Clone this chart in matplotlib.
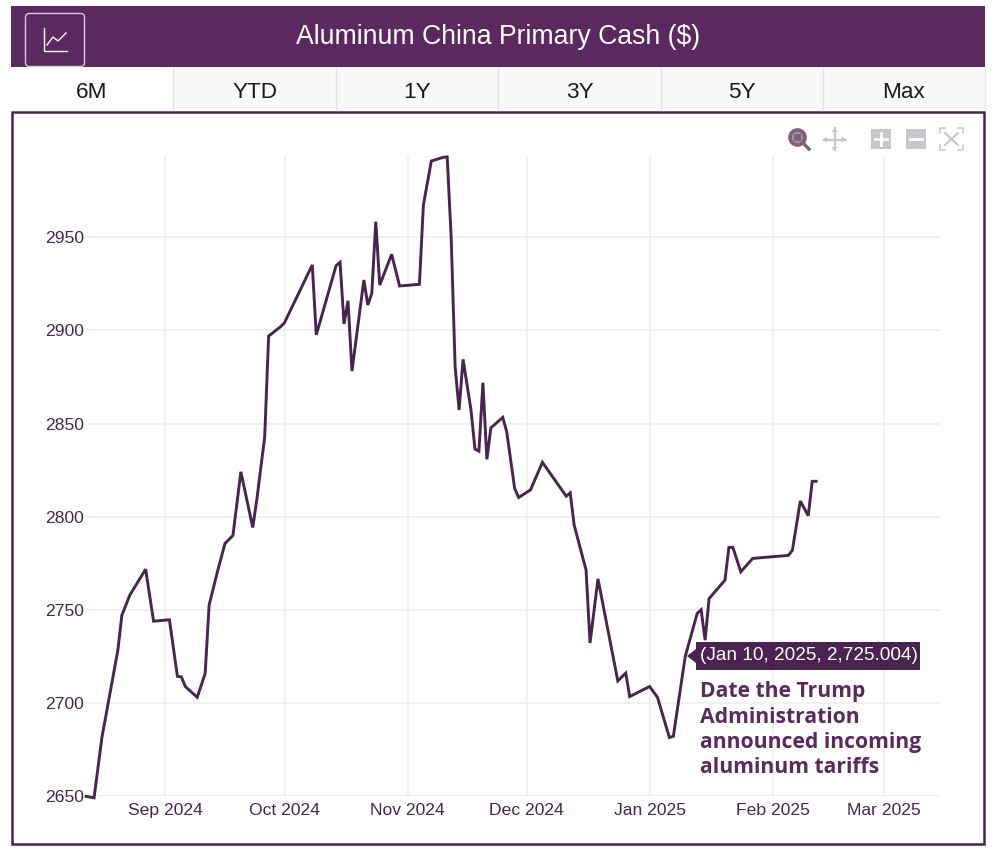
import matplotlib
matplotlib.use("Agg")
import matplotlib.pyplot as plt
import matplotlib.dates as mdates
from matplotlib.patches import Rectangle, FancyBboxPatch, Polygon, Circle
import numpy as np

dates = ["2024-08-12","2024-08-14","2024-08-16","2024-08-20","2024-08-21","2024-08-23","2024-08-27","2024-08-29",
"2024-09-02","2024-09-04","2024-09-05","2024-09-06","2024-09-09","2024-09-11","2024-09-12","2024-09-14","2024-09-16",
"2024-09-18","2024-09-20","2024-09-23","2024-09-24","2024-09-26","2024-09-27","2024-09-30","2024-10-01","2024-10-08",
"2024-10-09","2024-10-14","2024-10-15","2024-10-16","2024-10-17","2024-10-18","2024-10-21","2024-10-22","2024-10-23",
"2024-10-24","2024-10-25","2024-10-28","2024-10-30","2024-11-04","2024-11-05","2024-11-07","2024-11-10","2024-11-11",
"2024-11-12","2024-11-13","2024-11-14","2024-11-15","2024-11-17","2024-11-18","2024-11-19","2024-11-20","2024-11-21",
"2024-11-22","2024-11-25","2024-11-26","2024-11-28","2024-11-29","2024-12-02","2024-12-05","2024-12-11","2024-12-12",
"2024-12-13","2024-12-16","2024-12-17","2024-12-19","2024-12-24","2024-12-26","2024-12-27","2025-01-01","2025-01-03",
"2025-01-06","2025-01-07","2025-01-10","2025-01-13","2025-01-14","2025-01-15","2025-01-16","2025-01-20","2025-01-21",
"2025-01-22","2025-01-24","2025-01-27","2025-02-05","2025-02-06","2025-02-08","2025-02-10","2025-02-11","2025-02-12"]
prices = [2649.8,2649,2681.7,2728.3,2747,2757.8,2771.8,2743.9,
2744.6,2714.3,2714,2708.8,2703,2715.8,2752.5,2769.7,2785.6,
2789.9,2824.1,2794.2,2808.9,2842.7,2897,2902,2904.2,2935.2,
2897.6,2934.8,2936.6,2903.5,2916,2878.2,2927.1,2913.7,2920,
2958.4,2924.4,2940.9,2923.9,2924.8,2967.4,2991,2993,2993.2,
2950.2,2880.5,2857.3,2884.5,2857.3,2836.3,2835.2,2871.9,2830.8,
2847.7,2853.3,2845.6,2815.2,2810.3,2814.4,2829.2,2811,2812.8,
2795.5,2771.3,2732.2,2766.6,2711.8,2716,2703.4,2708.8,2703,
2681.4,2682.1,2725.004,2748,2750,2733.7,2756,2765.9,2783.5,
2783.5,2770.4,2777.6,2779.2,2782,2808.4,2800.5,2819,2819]
y_ticks = [2650,2700,2750,2800,2850,2900,2950]
tabs = ["6M","YTD","1Y","3Y","5Y","Max"]
title = "Aluminum China Primary Cash ($)"
tooltip = "(Jan 10, 2025, 2,725.004)"
note = ["Date the Trump","Administration","announced incoming","aluminum tariffs"]

PURPLE = "#5b2860"
DARK = "#4a2350"
W, H = 1000, 861
fig = plt.figure(figsize=(W/100, H/100), dpi=100, facecolor="white")
plt.rcParams["font.family"] = ["Liberation Sans", "DejaVu Sans"]

# chrome overlay in pixel coordinates
bg = fig.add_axes([0, 0, 1, 1], zorder=0)
bg.set_xlim(0, W); bg.set_ylim(H, 0); bg.axis("off")
bg.add_patch(Rectangle((11, 6), 974, 61, fc=PURPLE, ec="none"))
edges = [11, 173, 336, 498, 661, 823, 985]
for i, lab in enumerate(tabs):
    x0, x1 = edges[i], edges[i+1]
    top = 68 if i == 0 else 67
    bg.add_patch(Rectangle((x0, top), x1-x0, 43-(top-67), fc="white" if i == 0 else "#f9f9f9", ec="none"))
    if i > 0:
        bg.plot([x0, x0], [68, 110], color="#e2e2e2", lw=1)
    bg.text((x0+x1)/2, 93, lab, color="#1a1a1a", fontsize=16.2, ha="center", va="center")
bg.plot([985, 985], [67, 110], color="#e8e8e8", lw=1)
bg.add_patch(FancyBboxPatch((25.5, 13.5), 59, 53, boxstyle="round,pad=0,rounding_size=4", fc=PURPLE, ec="#d8cbd9", lw=1))
bg.plot([44, 44, 67], [28, 50.5, 50.5], color="white", lw=1)
bg.plot([47, 53, 58, 66], [45, 37, 41, 33], color="white", lw=1)
bg.text(498, 37, title, color="white", fontsize=19.2, ha="center", va="center")
bg.add_patch(Rectangle((12, 111.5), 971.5, 732, fc="white", ec=DARK, lw=1.8))

# toolbar icons
bg.add_patch(Circle((797.5, 137.5), 7.5, fc="#a595a4", ec="#7a6078", lw=2.6))
bg.add_patch(Rectangle((794, 134), 7, 7, fc="#7a6078", ec="none"))
bg.plot([803, 809], [143, 149], color="#7a6078", lw=2.4)
gray = "#c9c6cb"
bg.plot([823.5, 845.5], [139.5, 139.5], color=gray, lw=1.6)
bg.plot([834.5, 834.5], [128, 150], color=gray, lw=1.6)
for px, py in [([823,827,827],[139.5,136.5,142.5]),([846,842,842],[139.5,136.5,142.5]),
               ([834.5,831.5,837.5],[128,132,132]),([834.5,831.5,837.5],[151,147,147])]:
    bg.add_patch(Polygon(np.column_stack([px, py]), fc=gray, ec="none"))
bg.add_patch(Rectangle((871, 129), 20, 20, fc=gray, ec="none"))
bg.plot([875, 887], [139, 139], color="white", lw=2)
bg.plot([881, 881], [133, 145], color="white", lw=2)
bg.add_patch(Rectangle((906, 129), 20, 20, fc=gray, ec="none"))
bg.plot([910, 922], [139, 139], color="white", lw=2)
for sx, sy in [(940, 128), (963, 128), (940, 150), (963, 150)]:
    dx = 5 if sx < 950 else -5
    dy = 5 if sy < 140 else -5
    bg.plot([sx+dx, sx, sx], [sy, sy, sy+dy], color=gray, lw=1.1)
bg.plot([945, 958], [133, 145], color=gray, lw=1.4)
bg.plot([945, 958], [145, 133], color=gray, lw=1.4)

# plot
x = mdates.date2num(np.array(dates, dtype="datetime64[D]"))
sep1 = mdates.date2num(np.datetime64("2024-09-01"))
L, R, T, B = 86, 940, 156, 796
ax = fig.add_axes([L/W, 1-B/H, (R-L)/W, (B-T)/H], zorder=1)
ax.patch.set_alpha(0)
ax.set_xlim(sep1-20.03, sep1+195.2)
ax.set_ylim(2650, 2993.7)
ax.plot(x, prices, color=DARK, lw=2.1, solid_joinstyle="miter", clip_on=False, zorder=3)
ax.xaxis.set_major_locator(mdates.MonthLocator())
ax.xaxis.set_major_formatter(mdates.DateFormatter("%b %Y"))
ax.set_yticks(y_ticks)
ax.grid(True, color="#eeeeee", lw=1.1)
ax.set_axisbelow(True)
for s in ax.spines.values():
    s.set_visible(False)
ax.tick_params(axis="both", length=0, labelcolor=DARK, labelsize=12.6)
ax.tick_params(axis="x", pad=5)
ax.tick_params(axis="y", pad=1.5)

# tooltip and note on top
fg = fig.add_axes([0, 0, 1, 1], zorder=2)
fg.set_xlim(0, W); fg.set_ylim(H, 0); fg.axis("off")
fg.add_patch(Polygon([[687, 656], [696, 649], [696, 642], [920, 642], [920, 670], [696, 670], [696, 663]], fc=DARK, ec="none"))
fg.text(700, 656, tooltip, color="white", fontsize=13.7, ha="left", va="center")
for i, line in enumerate(note):
    fg.text(700, 692+25.1*i, line, color=PURPLE, fontsize=15.2, fontweight="bold",
            family=["Open Sans", "DejaVu Sans"], ha="left", va="center")

fig.savefig("out.png", dpi=100)
